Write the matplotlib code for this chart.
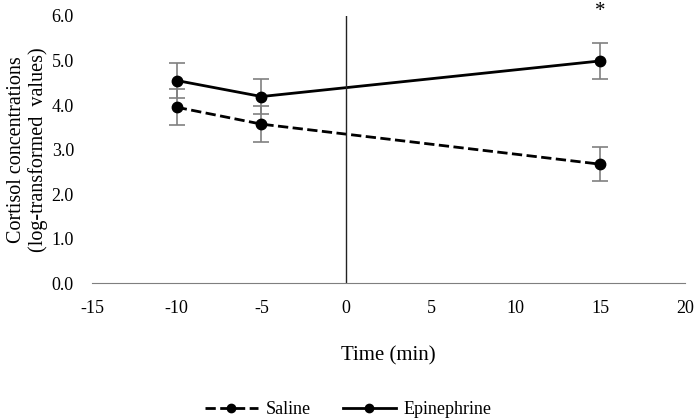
import matplotlib
matplotlib.use("Agg")
import matplotlib.pyplot as plt

plt.rcParams['font.family'] = ['Liberation Serif', 'DejaVu Serif']
plt.rcParams['axes.unicode_minus'] = False

times = [-10, -5, 15]
saline = [3.95, 3.57, 2.67]
saline_err = [0.40, 0.40, 0.38]
epinephrine = [4.55, 4.19, 4.99]
epinephrine_err = [0.40, 0.40, 0.40]

fig = plt.figure(figsize=(6.97, 4.2), dpi=100)
ax = fig.add_axes([0.132, 0.326, 0.851, 0.636])

ax.errorbar(times, saline, yerr=saline_err, fmt='none', ecolor='#808080',
            elinewidth=1.2, capsize=6, capthick=1.2)
ax.errorbar(times, epinephrine, yerr=epinephrine_err, fmt='none', ecolor='#808080',
            elinewidth=1.2, capsize=6, capthick=1.2)
ax.plot(times, saline, color='black', linestyle='--', linewidth=2,
        marker='o', markersize=7.5, label='Saline')
ax.plot(times, epinephrine, color='black', linestyle='-', linewidth=2,
        marker='o', markersize=7.5, label='Epinephrine')

ax.axvline(0, color='#222222', linewidth=1)
ax.text(15, 6.1, '*', ha='center', va='center', fontsize=15, clip_on=False)

ax.set_xlim(-15, 20)
ax.set_ylim(0, 6)
ax.set_xticks(range(-15, 21, 5))
ax.set_yticks([0, 1, 2, 3, 4, 5, 6])
ax.set_yticklabels(['%.1f' % v for v in range(7)])
ax.tick_params(length=0, labelsize=13)
ax.tick_params(axis='y', pad=13)
ax.tick_params(axis='x', pad=12)
for s in ['top', 'right', 'left']:
    ax.spines[s].set_visible(False)
ax.spines['bottom'].set_color('#7f7f7f')

ax.set_xlabel('Time (min)', fontsize=15, labelpad=21)
ax.set_ylabel('Cortisol concentrations\n(log-transformed  values)', fontsize=14.5,
              linespacing=1.15)
ax.yaxis.set_label_coords(-0.074, 0.5)

fig.legend(loc='lower center', bbox_to_anchor=(0.5, -0.035), ncol=2, frameon=False,
           fontsize=13, handlelength=2.9, columnspacing=1.8, markerscale=0.8,
           handletextpad=0.45)

fig.savefig('out.png', dpi=100)
